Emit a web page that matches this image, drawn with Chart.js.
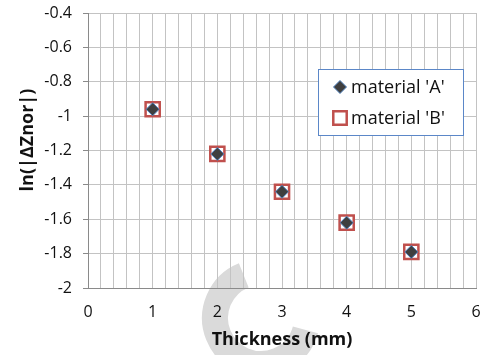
<!DOCTYPE html>
<html>
<head>
<meta charset="utf-8">
<script src="https://cdn.jsdelivr.net/npm/chart.js@4/dist/chart.umd.min.js"></script>
<style>
  html, body { margin: 0; padding: 0; background: #fff; }
  #wrap { width: 485px; height: 355px; }
</style>
</head>
<body>
<div id="wrap"><canvas id="c" width="485" height="355"></canvas></div>
<script>
// Thickness (mm) and measured ln(|ΔZnor|) for the two materials
const thickness = [1, 2, 3, 4, 5];
const materialA = [-0.96, -1.22, -1.44, -1.62, -1.79];
const materialB = [-0.96, -1.22, -1.44, -1.62, -1.79];
const seriesNames = ["material 'A'", "material 'B'"];
const xTitle = 'Thickness (mm)';
const yTitle = 'ln(|ΔZnor|)';
const xRange = [0, 6];
const yRange = [-2, -0.4];

const FONT = "'Open Sans', 'Liberation Sans', sans-serif";

// faint grey arc in the lower middle, behind everything
const arcMark = {
  id: 'arcMark',
  beforeDraw(chart) {
    const ctx = chart.ctx;
    ctx.save();
    ctx.strokeStyle = '#dadada';
    ctx.lineWidth = 26;
    ctx.lineCap = 'butt';
    ctx.beginPath();
    ctx.arc(261, 318, 46, 248 * Math.PI / 180, 15 * Math.PI / 180, true);
    ctx.stroke();
    ctx.restore();
  }
};

// rotated value-axis title, sitting a little above the plot's middle
const yAxisTitle = {
  id: 'yAxisTitle',
  afterDraw(chart) {
    const ctx = chart.ctx;
    ctx.save();
    ctx.translate(28, 140);
    ctx.rotate(-Math.PI / 2);
    ctx.fillStyle = '#111';
    ctx.font = 'bold 18px ' + FONT;
    ctx.textAlign = 'center';
    ctx.textBaseline = 'middle';
    ctx.fillText(yTitle, 0, 0);
    ctx.restore();
  }
};

// boxed legend inside the plot area
const boxLegend = {
  id: 'boxLegend',
  afterDraw(chart) {
    const ctx = chart.ctx;
    const bx = 318, by = 69, bw = 145, bh = 66;
    ctx.save();
    ctx.fillStyle = '#ffffff';
    ctx.fillRect(bx, by, bw, bh);
    ctx.strokeStyle = '#5b87c8';
    ctx.lineWidth = 1;
    ctx.strokeRect(bx + 0.5, by + 0.5, bw, bh);
    const rows = [87, 118];
    chart.data.datasets.forEach((ds, i) => {
      const y = rows[i];
      ctx.fillStyle = ds.backgroundColor;
      ctx.strokeStyle = ds.borderColor;
      ctx.lineWidth = ds.pointBorderWidth;
      Chart.helpers.drawPoint(ctx, {
        pointStyle: ds.pointStyle,
        radius: ds.legendRadius,
        rotation: 0,
        borderWidth: ds.pointBorderWidth
      }, 340, y);
      ctx.fillStyle = '#111';
      ctx.font = '18px ' + FONT;
      ctx.textBaseline = 'middle';
      ctx.textAlign = 'left';
      ctx.fillText(ds.label, 351, y + 1);
    });
    ctx.restore();
  }
};

const isWhole = v => Math.abs(v - Math.round(v)) < 1e-6;

// the plot area is placed by the layout padding alone
const noLabelPadding = s => {
  s.paddingLeft = 0; s.paddingRight = 0; s.paddingTop = 0; s.paddingBottom = 0;
};

new Chart(document.getElementById('c'), {
  type: 'scatter',
  data: {
    datasets: [
      {
        label: seriesNames[0],
        data: thickness.map((x, i) => ({ x, y: materialA[i] })),
        pointStyle: 'rectRot',
        pointRadius: 6.5,
        legendRadius: 6.5,
        backgroundColor: '#3f3f3f',
        borderColor: '#4f81bd',
        pointBorderWidth: 1,
        borderWidth: 1
      },
      {
        label: seriesNames[1],
        data: thickness.map((x, i) => ({ x, y: materialB[i] })),
        pointStyle: 'rect',
        pointRadius: 10,
        legendRadius: 9.5,
        backgroundColor: '#ffffff',
        borderColor: '#c0504d',
        pointBorderWidth: 2.5,
        borderWidth: 2.5
      }
    ]
  },
  options: {
    responsive: false,
    animation: false,
    devicePixelRatio: 1,
    layout: { autoPadding: false, padding: { top: 13, right: 9, left: 0, bottom: 0 } },
    plugins: {
      legend: { display: false },
      tooltip: { enabled: false }
    },
    scales: {
      x: {
        type: 'linear',
        min: xRange[0],
        max: xRange[1],
        afterFit(s) { s.height = 67; noLabelPadding(s); },
        border: { color: '#8a8a8a', width: 1 },
        grid: { color: '#c3c3c3', lineWidth: 1, drawTicks: false },
        ticks: {
          stepSize: 0.2,
          autoSkip: false,
          maxTicksLimit: 100,
          maxRotation: 0,
          padding: 15,
          color: '#111',
          font: { family: FONT, size: 16 },
          callback: v => isWhole(v) ? String(Math.round(v)) : ''
        },
        title: {
          display: true,
          text: xTitle,
          color: '#111',
          font: { family: FONT, size: 18, weight: 'bold' },
          padding: { top: 0, bottom: 4 }
        }
      },
      y: {
        type: 'linear',
        min: yRange[0],
        max: yRange[1],
        afterFit(s) { s.width = 88; noLabelPadding(s); },
        border: { color: '#8a8a8a', width: 1 },
        grid: { color: '#c3c3c3', lineWidth: 1, tickLength: 5, tickColor: '#8a8a8a' },
        ticks: {
          stepSize: 0.2,
          padding: 11,
          color: '#111',
          font: { family: FONT, size: 16 },
          callback: v => String(Number(v.toFixed(1)))
        },
        title: { display: false }
      }
    }
  },
  plugins: [arcMark, yAxisTitle, boxLegend]
});
</script>
</body>
</html>
